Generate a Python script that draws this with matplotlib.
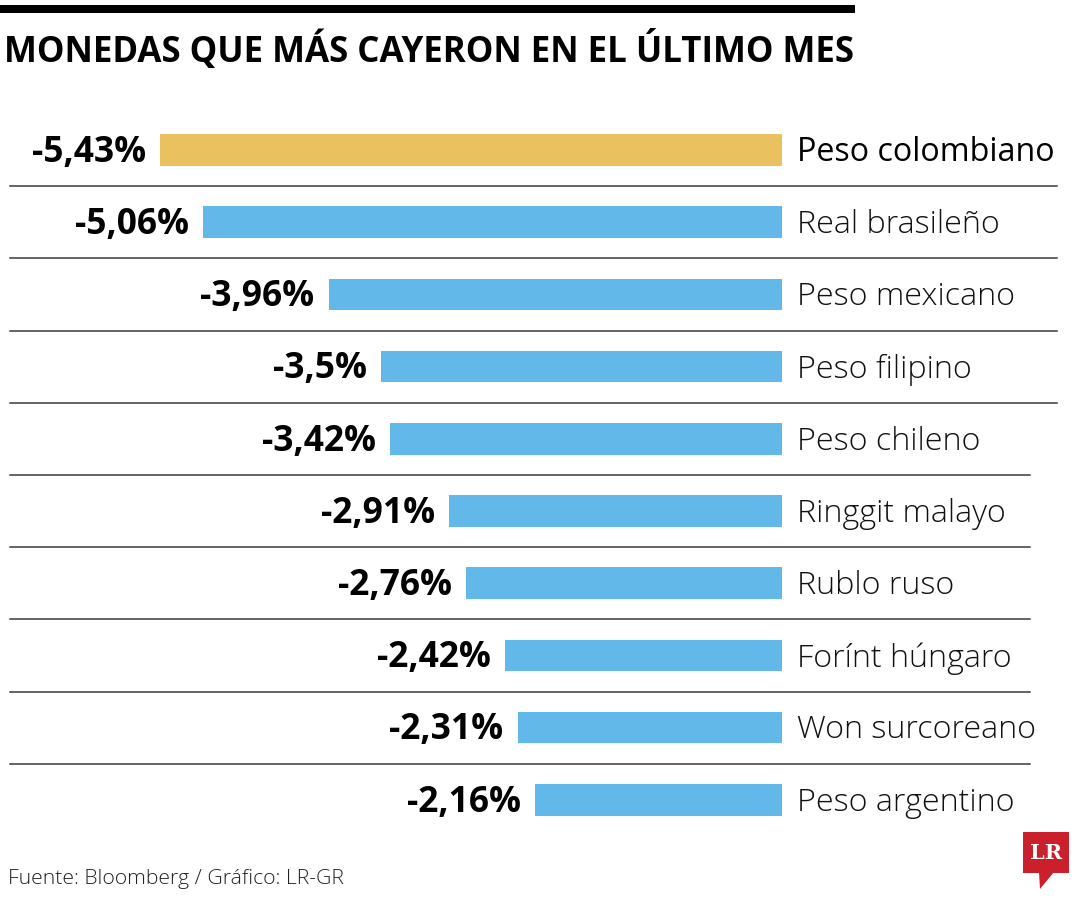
import matplotlib

matplotlib.use("Agg")
import matplotlib.pyplot as plt  # noqa: E402
from matplotlib.patches import Rectangle, Polygon  # noqa: E402

# datos
monedas = [
    "Peso colombiano", "Real brasileño", "Peso mexicano", "Peso filipino",
    "Peso chileno", "Ringgit malayo", "Rublo ruso", "Forínt húngaro",
    "Won surcoreano", "Peso argentino",
]
variacion = [-5.43, -5.06, -3.96, -3.5, -3.42, -2.91, -2.76, -2.42, -2.31, -2.16]
etiquetas = ["-5,43%", "-5,06%", "-3,96%", "-3,5%", "-3,42%",
             "-2,91%", "-2,76%", "-2,42%", "-2,31%", "-2,16%"]

W, H = 1080, 900
GOLD = "#E9C15E"
BLUE = "#62B8E8"
FONT = "Open Sans"


def fx(px):
    return px / W


def fy(py):
    return 1 - py / H


fig = plt.figure(figsize=(W / 100, H / 100), dpi=100)
fig.patch.set_facecolor("white")

# eje a pantalla completa: 114.5 px por punto porcentual, cero en x=782
ppu = 114.5
row = 72.2
ax = fig.add_axes([0, 0, 1, 1])
ax.set_xlim(-782 / ppu, (W - 782) / ppu)
ax.set_ylim((H - 150) / row, -150 / row)
ax.axis("off")

n = len(monedas)
colores = [GOLD] + [BLUE] * (n - 1)
ypos = list(range(n))
ax.barh(ypos, variacion, height=0.44, color=colores, zorder=2)

gap = 14 / ppu
for i, (v, lab, name) in enumerate(zip(variacion, etiquetas, monedas)):
    ax.text(v - gap, i + 0.04, lab, ha="right", va="center", fontsize=25.5,
            fontweight="bold", family=FONT, color="black", zorder=3)
    ax.text(15 / ppu, i + 0.04, name, ha="left", va="center", fontsize=23.2,
            family=FONT, fontweight="normal" if i == 0 else "light",
            color="black" if i == 0 else "#111111", zorder=3)

# separadores
for i in range(n - 1):
    right = 1057 if i < 4 else 1030
    ax.plot([(10 - 782) / ppu, (right - 782) / ppu], [i + 0.5, i + 0.5],
            color="#3a3a3a", lw=1.1, zorder=1)

# barra superior y título
fig.add_artist(Rectangle((0, fy(13)), fx(855), 8 / H, transform=fig.transFigure,
                         color="black", lw=0))
title = fig.text(fx(4), fy(51), "MONEDAS QUE MÁS CAYERON EN EL ÚLTIMO MES",
                 ha="left", va="center", fontsize=24, fontweight="bold",
                 family=FONT, color="black")
# ajustar ancho del título a ~852 px
fig.canvas.draw()
w = title.get_window_extent().width
title.set_fontsize(24 * 852 / w)

fig.text(fx(8), fy(879), "Fuente: Bloomberg / Gráfico: LR-GR", ha="left",
         va="center", fontsize=15.2, family=FONT, fontweight="light",
         color="#222222")

# logo LR
red = "#C9202B"
fig.add_artist(Rectangle((fx(1023), fy(873)), fx(46), 41 / H,
                         transform=fig.transFigure, color=red, lw=0))
fig.add_artist(Polygon([(fx(1039), fy(872)), (fx(1054), fy(872)), (fx(1040), fy(889))],
                       closed=True, transform=fig.transFigure, color=red, lw=0))
fig.text(fx(1046), fy(853), "LR", ha="center", va="center", fontsize=15,
         fontweight="bold", family="DejaVu Serif", color="white")

fig.savefig("out.png", dpi=100, facecolor="white")
